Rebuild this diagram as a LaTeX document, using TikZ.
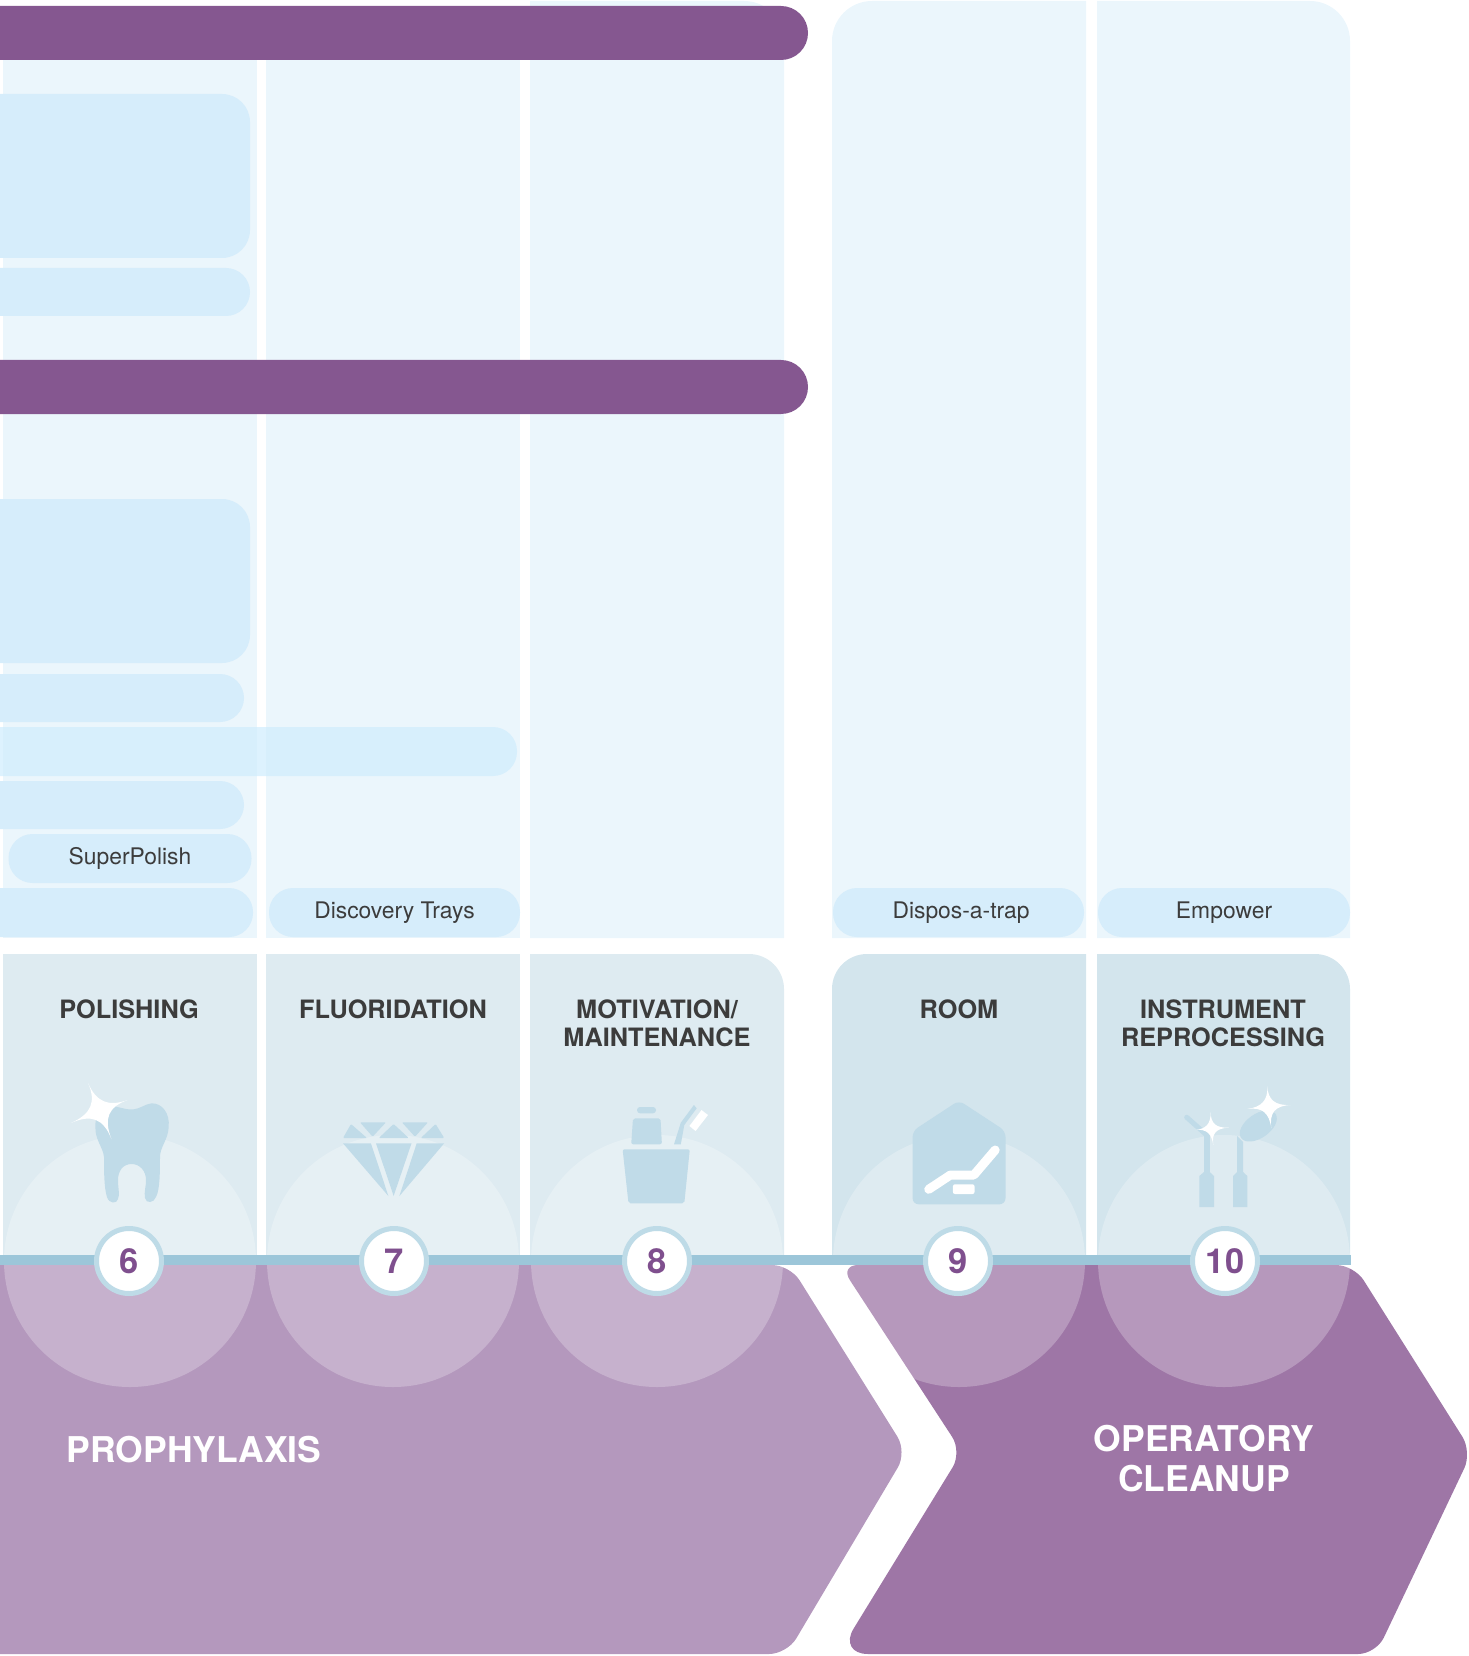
\documentclass[tikz,border=0pt]{standalone}
\usepackage{fontspec}
\setmainfont{TeX Gyre Heros}
\usepackage{xcolor}
\usetikzlibrary{positioning,calc}
\definecolor{barpurple}{HTML}{855790}
\definecolor{numpurple}{HTML}{7F4F8E}
\definecolor{prophy}{HTML}{B498BD}
\definecolor{cleanup}{HTML}{9E76A6}
\definecolor{colpale}{HTML}{EBF6FC}
\definecolor{pillblue}{HTML}{D6EDFB}
\definecolor{longblue}{HTML}{CFEDFD}
\definecolor{headone}{HTML}{DEEBF1}
\definecolor{headtwo}{HTML}{D3E5ED}
\definecolor{iconblue}{HTML}{C0DBE8}
\definecolor{linkblue}{HTML}{9CC6D9}
\definecolor{ringblue}{HTML}{BEDBE7}
\definecolor{inktext}{HTML}{3C3C3C}
\tikzset{
  pillbar/.style={fill=pillblue,rounded corners=2.4mm,inner sep=0pt,minimum height=4.9mm,font=\fontsize{6.5}{8}\selectfont,text=inktext},
  headtext/.style={font=\fontsize{7.2}{8.05}\selectfont\bfseries,text=inktext,align=center,anchor=north},
  numring/.style={circle,draw=ringblue,line width=0.5mm,fill=white,minimum size=6.5mm,inner sep=0pt,font=\fontsize{9.8}{10}\selectfont\bfseries,text=numpurple},
  halo/.style={fill=white,fill opacity=0.25},
  stagetext/.style={font=\fontsize{10.1}{11.4}\selectfont\bfseries,text=white,align=center},
  icon/.style={fill=iconblue}
}
% one side of a sparkle, then four tips around a centre
\newcommand{\sparkleside}[3]{.. controls ($#1!.3!#2$) and ($#1!.3!#3$) .. #3}
\newcommand{\sparkle}[5]{\fill[white] #2 \sparkleside{#1}{#2}{#3} \sparkleside{#1}{#3}{#4} \sparkleside{#1}{#4}{#5} \sparkleside{#1}{#5}{#2} -- cycle;}
\begin{document}
\begin{tikzpicture}[x=0.1mm,y=-0.1mm]
    \useasboundingbox (0,0) rectangle (1469,1656);

    % Columns
    \fill[colpale] (3,30) rectangle (257,938);
    \fill[colpale] (266,30) rectangle (520,938);
    \fill[colpale] (530,1) -- (744,1) arc (90:0:40 and -40) -- (784,938) -- (530,938) -- cycle;
    \fill[colpale] (832,938) -- (832,41) arc (180:90:40 and -40) -- (1086,1) -- (1086,938) -- cycle;
    \fill[colpale] (1097,938) -- (1097,1) -- (1310,1) arc (90:0:40 and -40) -- (1350,938) -- cycle;

    % Bars in the first column
    \fill[pillblue,rounded corners=2.8mm] (-40,94) rectangle (250,258);
    \fill[pillblue,rounded corners=2.4mm] (-40,268) rectangle (250,316);
    \fill[pillblue,rounded corners=2.8mm] (-40,499) rectangle (250,663);
    \fill[pillblue,rounded corners=2.4mm] (-40,674) rectangle (244,722);
    \fill[longblue,opacity=0.7,rounded corners=2.4mm] (-40,727) rectangle (517,776);
    \fill[pillblue,rounded corners=2.4mm] (-40,781) rectangle (244,829);
    \fill[pillblue,rounded corners=2.4mm] (-40,888) rectangle (253,937);

    \node[pillbar,minimum width=24.3mm] (superpolish) at (130,858.5) {SuperPolish};
    \node[pillbar,minimum width=25.1mm] (discovery) at (394.5,912.5) {Discovery Trays};
    \node[pillbar,minimum width=25.1mm] (dispos) at (958.5,912.5) {\hspace{0.5mm}Dispos-a-trap};
    \node[pillbar,minimum width=25.2mm] (empower) at (1224,912.5) {Empower};

    % Purple bars
    \fill[barpurple,rounded corners=2.7mm] (-40,6) rectangle (808,60);
    \fill[barpurple,rounded corners=2.7mm] (-40,360) rectangle (808,414);

    % Header cells
    \fill[headone] (3,954) rectangle (257,1255);
    \fill[headone] (266,954) rectangle (520,1255);
    \fill[headone] (530,954) -- (749,954) arc (90:0:35 and -35) -- (784,1255) -- (530,1255) -- cycle;
    \fill[headtwo] (832,1255) -- (832,989) arc (180:90:35 and -35) -- (1086,954) -- (1086,1255) -- cycle;
    \fill[headtwo] (1097,1255) -- (1097,954) -- (1315,954) arc (90:0:35 and -35) -- (1350,1255) -- cycle;

    % Stage arrows
    \fill[prophy,rounded corners=1.8mm] (-40,1265) -- (790,1265) -- (907,1452) -- (787,1654) -- (-40,1654) -- cycle;
    \fill[cleanup,rounded corners=1.8mm] (840,1265) -- (1354,1265) -- (1472,1452) -- (1376,1654) [rounded corners=3mm] -- (838,1654) [rounded corners=1.8mm] -- (962,1452) -- cycle;

    % Halos
    \foreach \cx in {130,393,657,959,1224}
        \fill[halo] (\cx,1261) circle (12.6mm);

    % Tooth
    \fill[icon] (151.5,1103.3) .. controls (162,1103) and (170,1113) .. (168.7,1127)
        .. controls (168,1140) and (160,1147) .. (160,1157)
        .. controls (160,1170) and (160,1190) .. (156,1197)
        .. controls (154,1203) and (146,1204) .. (145,1198)
        .. controls (144,1190) and (146,1188) .. (146,1180)
        .. controls (146,1171) and (140,1164) .. (131.5,1164)
        .. controls (123,1164) and (118,1171) .. (118,1180)
        .. controls (118,1188) and (120,1195) .. (118,1199)
        .. controls (117,1204) and (109,1204) .. (107,1197)
        .. controls (104,1188) and (104,1170) .. (104,1157)
        .. controls (103,1147) and (95,1140) .. (95.4,1127)
        .. controls (95,1115) and (100,1108) .. (110,1106)
        .. controls (118,1106) and (125,1110) .. (132.6,1109.5)
        .. controls (140,1109) and (145,1104) .. (151.5,1103.3) -- cycle;
    \sparkle{(100,1110)}{(88,1083)}{(127.5,1100)}{(111.5,1139)}{(71,1123)}

    % Diamond
    \fill[icon,rounded corners=0.1mm] (351,1124) -- (343,1138) -- (367,1138) -- cycle;
    \fill[icon,rounded corners=0.1mm] (360,1122.3) -- (386,1122.3) -- (372.6,1136.7) -- cycle;
    \fill[icon,rounded corners=0.1mm] (393.6,1124) -- (378.8,1138) -- (408.7,1138) -- cycle;
    \fill[icon,rounded corners=0.1mm] (401.9,1122.3) -- (428,1122.3) -- (415,1136.7) -- cycle;
    \fill[icon,rounded corners=0.1mm] (435.6,1124) -- (420.8,1138) -- (444.2,1138) -- cycle;
    \fill[icon] (343,1143.3) -- (370.9,1143.3) -- (388.4,1196) -- cycle;
    \fill[icon] (376,1143.3) -- (411.5,1143.3) -- (393.6,1196) -- cycle;
    \fill[icon] (416.7,1143.3) -- (444.2,1143.3) -- (399.4,1196) -- cycle;

    % Cup and brush
    \fill[icon,rounded corners=0.2mm] (622.6,1149.3) -- (689.8,1149.3) -- (684.3,1203.3) -- (628.5,1203.3) -- cycle;
    \fill[icon,rounded corners=0.2mm] (633,1118.3) -- (660.5,1118.3) -- (661.9,1144.3) -- (631.2,1144.3) -- cycle;
    \fill[icon,rounded corners=0.3mm] (637,1107) rectangle (656,1113.3);
    \fill[icon] (674,1144.3) -- (680.8,1144.3) -- (684.3,1125) -- (696.7,1108.3) -- (693.9,1105) -- (680.8,1122.7) -- cycle;
    \fill[white] (701.5,1110) -- (708,1115) -- (695.6,1131) -- (689.4,1126) -- cycle;

    % Chair
    \fill[icon,rounded corners=0.6mm] (912.6,1131) -- (959,1100.5) -- (1005.5,1131) -- (1005.5,1204.3) -- (912.6,1204.3) -- cycle;
    \draw[white,line width=0.9mm,line cap=round,line join=round] (928.7,1189.3) -- (950.4,1175) -- (973.9,1175) -- (995.2,1150);
    \fill[white,rounded corners=0.2mm] (952.9,1184.3) rectangle (974.5,1194);

    % Instruments
    \fill[icon] (1199.3,1207) -- (1199.3,1176) -- (1204,1172) -- (1209.7,1172) -- (1214,1176) -- (1214,1207) -- cycle;
    \fill[icon] (1204,1131.7) rectangle (1209.7,1175);
    \draw[iconblue,line width=0.5mm,line cap=round] (1186.7,1117.3) -- (1206.7,1135);
    \fill[icon] (1233,1207) -- (1233,1176) -- (1237,1172) -- (1243,1172) -- (1247.3,1176) -- (1247.3,1207) -- cycle;
    \fill[icon] (1237,1136) -- (1243,1142) -- (1243,1175) -- (1237,1175) -- cycle;
    \fill[icon] (1258.3,1126) ellipse [x radius=21,y radius=12,rotate=35];
    \sparkle{(1210.7,1128.3)}{(1210.7,1112.3)}{(1229,1127.7)}{(1213.3,1145)}{(1195.7,1130)}
    \sparkle{(1268.3,1106)}{(1267.3,1086)}{(1290.7,1105)}{(1271.3,1128.3)}{(1247.3,1109)}

    % Link line and numbers
    \fill[linkblue] (0,1255) rectangle (1351,1265);
    \node[numring] (num6) at (129,1261) {6};
    \node[numring] (num7) at (394,1261) {7};
    \node[numring] (num8) at (657,1261) {8};
    \node[numring] (num9) at (958,1261) {9};
    \node[numring] (num10) at (1225,1261) {10};

    % Titles
    \node[headtext] (polishing) at (129,987.5) {POLISHING};
    \node[headtext] (fluoridation) at (393,987.5) {FLUORIDATION};
    \node[headtext] (motivation) at (657,987.5) {MOTIVATION/\\MAINTENANCE};
    \node[headtext] (room) at (959,987.5) {ROOM};
    \node[headtext] (instrument) at (1223,987.5) {INSTRUMENT\\REPROCESSING};
    \node[stagetext] (prophylaxis) at (194,1450) {PROPHYLAXIS};
    \node[stagetext] (operatory) at (1204,1459) {OPERATORY\\CLEANUP};
\end{tikzpicture}
\end{document}
